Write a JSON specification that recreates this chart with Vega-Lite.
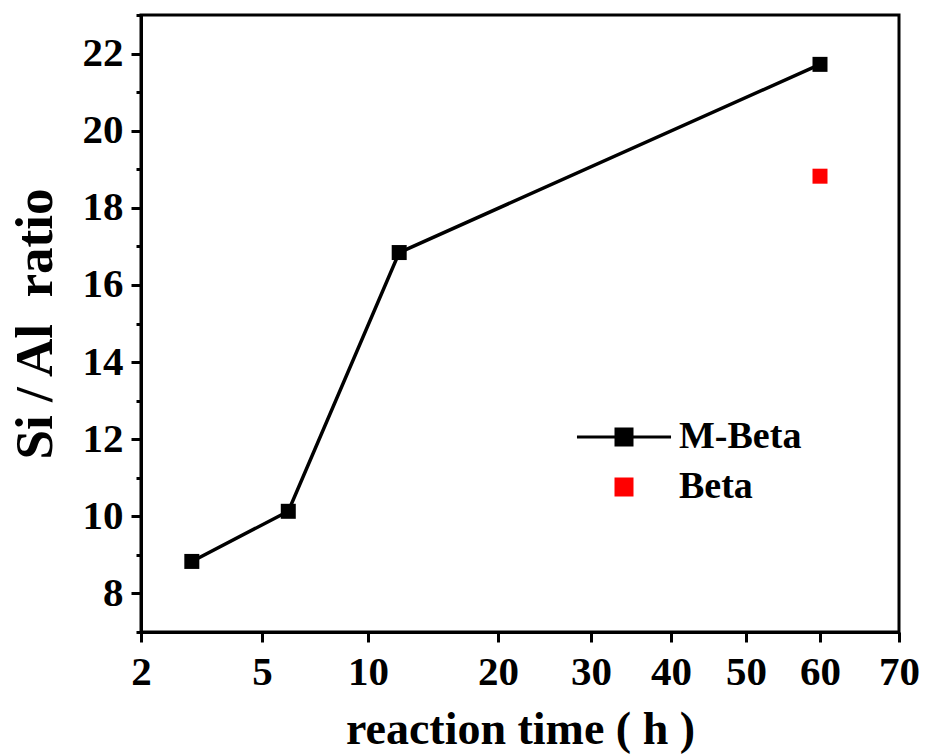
{
  "$schema": "https://vega.github.io/schema/vega-lite/v6.json",
  "width": 758,
  "height": 617,
  "autosize": {"type": "none"},
  "padding": {"left": 141, "top": 15, "right": 28, "bottom": 124},
  "background": "white",
  "config": {
    "font": "Liberation Serif",
    "view": {"stroke": "black", "strokeWidth": 3},
    "axis": {
      "domainColor": "black", "domainWidth": 3, "tickColor": "black", "tickWidth": 3,
      "labelFont": "Liberation Serif", "labelFontWeight": "bold", "labelFontSize": 41, "labelColor": "black",
      "titleFont": "Liberation Serif", "titleFontWeight": "bold", "titleColor": "black", "grid": false
    }
  },
  "data": {
    "values": [
      {"time": 3.26, "ratio": 8.83, "series": "M-Beta"},
      {"time": 6.24, "ratio": 10.13, "series": "M-Beta"},
      {"time": 12.4, "ratio": 16.84, "series": "M-Beta"},
      {"time": 60, "ratio": 21.72, "series": "M-Beta"},
      {"time": 60, "ratio": 18.82, "series": "Beta"}
    ]
  },
  "layer": [
    {
      "transform": [{"filter": "datum.series === 'M-Beta'"}],
      "mark": {"type": "line", "color": "black", "strokeWidth": 3.5},
      "encoding": {
        "x": {
          "field": "time", "type": "quantitative",
          "scale": {"domain": [2, 5, 10, 20, 30, 40, 50, 60, 70], "range": [0, 121, 227, 357, 450, 530, 605, 679, 758], "zero": false, "nice": false},
          "axis": {"values": [2, 5, 10, 20, 30, 40, 50, 60, 70], "tickSize": 10, "labelPadding": 10, "labelFlush": false, "labelOverlap": false, "title": "reaction time ( h )", "titleFontSize": 46, "titlePadding": 15}
        },
        "y": {
          "field": "ratio", "type": "quantitative",
          "scale": {"domain": [7, 23], "nice": false, "zero": false},
          "axis": {"values": [8, 10, 12, 14, 16, 18, 20, 22], "tickSize": 10, "labelPadding": 8, "title": "Si / Al \u00a0ratio", "titleFontSize": 53, "titlePadding": 20}
        }
      }
    },
    {
      "mark": {"type": "square", "size": 225, "opacity": 1},
      "encoding": {
        "x": {"field": "time", "type": "quantitative"},
        "y": {
          "field": "ratio", "type": "quantitative",
          "axis": {"orient": "left", "values": [7, 9, 11, 13, 15, 17, 19, 21, 23], "labels": false, "tickSize": 5, "domain": false, "title": null}
        },
        "color": {
          "field": "series", "type": "nominal",
          "scale": {"domain": ["M-Beta", "Beta"], "range": ["black", "#ff0000"]},
          "legend": {
            "title": null, "orient": "none", "legendX": 427, "legendY": 403,
            "symbolSize": 361, "symbolType": "square", "symbolOffset": 37, "labelOffset": 36,
            "labelFontSize": 38, "labelFont": "Liberation Serif", "labelFontWeight": "bold", "labelColor": "black",
            "rowPadding": 12, "symbolOpacity": 1,
            "encode": {"symbols": {"update": {"shape": {"signal": "datum.value === 'M-Beta' ? 'M-4.95,-0.17H4.95V0.17H-4.95Z M-1,-1H1V1H-1Z' : 'square'"}}}}
          }
        }
      }
    }
  ],
  "resolve": {"axis": {"y": "independent"}}
}
